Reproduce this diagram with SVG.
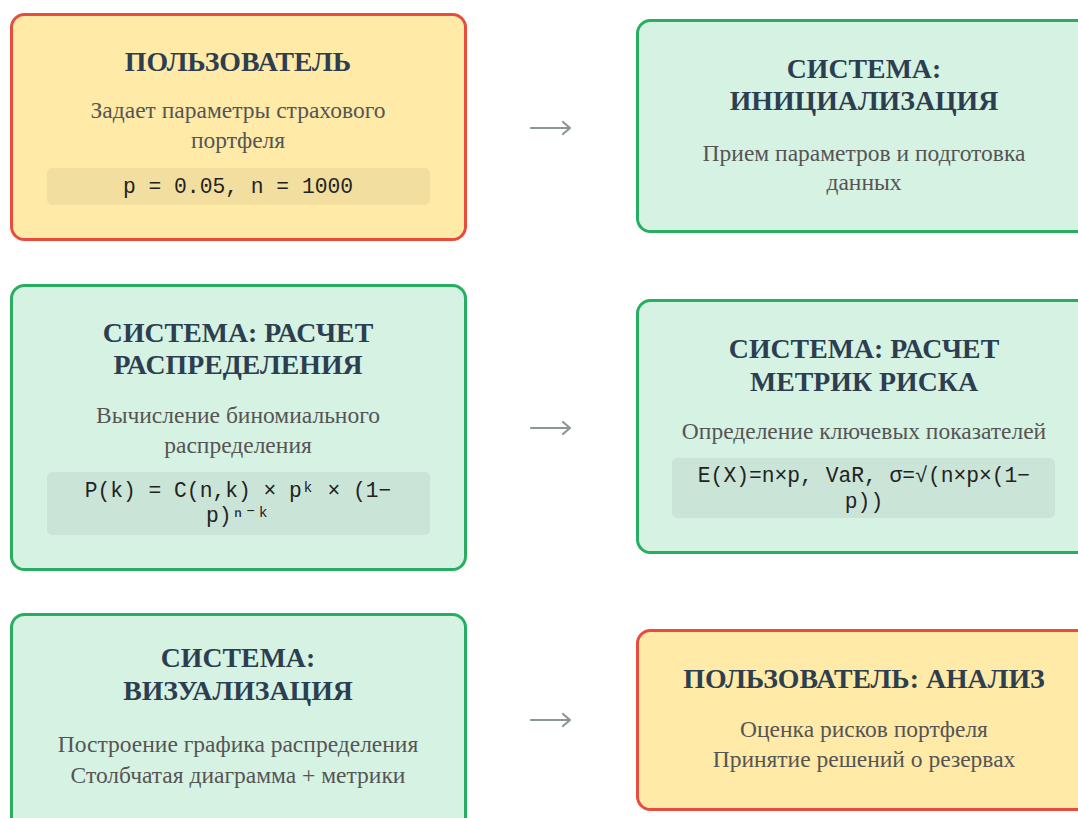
<svg xmlns="http://www.w3.org/2000/svg" width="1078" height="818" viewBox="0 0 1078 818">
<style>
.user{fill:#ffeaa7;stroke:#e74c3c;stroke-width:3}
.sys{fill:#d5f2e3;stroke:#27ae60;stroke-width:3}
.code{fill:#000;fill-opacity:0.05}
.t{font-family:"Liberation Serif","DejaVu Serif",serif;font-weight:bold;font-size:27.8px;fill:#2c3e50;text-anchor:middle}
.d{font-family:"Liberation Serif","DejaVu Serif",serif;font-size:23.5px;fill:#555;text-anchor:middle}
.c{font-family:"Liberation Mono","DejaVu Sans Mono",monospace;font-size:21.3px;fill:#222;text-anchor:middle}
.arr{fill:none;stroke:#8a9697;stroke-width:2.2;stroke-linecap:round;stroke-linejoin:round}
</style>
<rect width="1078" height="818" fill="#ffffff"/>
<g id="n1">
<rect class="user" x="11.5" y="14.5" width="454" height="225" rx="13"/>
<text class="t" x="238" y="71">ПОЛЬЗОВАТЕЛЬ</text>
<text class="d" x="238" y="118">Задает параметры страхового</text>
<text class="d" x="238" y="148">портфеля</text>
<rect class="code" x="47" y="168" width="383" height="37" rx="5"/>
<text class="c" x="238" y="193">p = 0.05, n = 1000</text>
</g>
<g id="n2">
<rect class="sys" x="637.5" y="20.5" width="454" height="211" rx="13"/>
<text class="t" x="864" y="78">СИСТЕМА:</text>
<text class="t" x="864" y="110">ИНИЦИАЛИЗАЦИЯ</text>
<text class="d" x="864" y="161">Прием параметров и подготовка</text>
<text class="d" x="864" y="190">данных</text>
</g>
<g id="n3">
<rect class="sys" x="11.5" y="285.5" width="454" height="284" rx="13"/>
<text class="t" x="238" y="342">СИСТЕМА: РАСЧЕТ</text>
<text class="t" x="238" y="374">РАСПРЕДЕЛЕНИЯ</text>
<text class="d" x="238" y="423">Вычисление биномиального</text>
<text class="d" x="238" y="453">распределения</text>
<rect class="code" x="47" y="472" width="383" height="63" rx="5"/>
<text class="c" x="238" y="497">P(k) = C(n,k) × pᵏ × (1−</text>
<text class="c" x="238" y="522">p)ⁿ⁻ᵏ</text>
</g>
<g id="n4">
<rect class="sys" x="637.5" y="300.5" width="454" height="252" rx="13"/>
<text class="t" x="864" y="358">СИСТЕМА: РАСЧЕТ</text>
<text class="t" x="864" y="391">МЕТРИК РИСКА</text>
<text class="d" x="864" y="439">Определение ключевых показателей</text>
<rect class="code" x="672" y="458" width="383" height="60" rx="5"/>
<text class="c" x="864" y="482">E(X)=n×p, VaR, σ=√(n×p×(1−</text>
<text class="c" x="864" y="508">p))</text>
</g>
<g id="n5">
<rect class="sys" x="11.5" y="614.5" width="454" height="230" rx="13"/>
<text class="t" x="238" y="667">СИСТЕМА:</text>
<text class="t" x="238" y="700">ВИЗУАЛИЗАЦИЯ</text>
<text class="d" x="238" y="752">Построение графика распределения</text>
<text class="d" x="238" y="783">Столбчатая диаграмма + метрики</text>
</g>
<g id="n6">
<rect class="user" x="637.5" y="630.5" width="454" height="179" rx="13"/>
<text class="t" x="864" y="688">ПОЛЬЗОВАТЕЛЬ: АНАЛИЗ</text>
<text class="d" x="864" y="737">Оценка рисков портфеля</text>
<text class="d" x="864" y="767">Принятие решений о резервах</text>
</g>
<g id="connectors">
<path class="arr" d="M531 128H570M563 122L570 128L563 134"/>
<path class="arr" d="M531 428H570M563 422L570 428L563 434"/>
<path class="arr" d="M531 720H570M563 714L570 720L563 726"/>
</g>
</svg>
